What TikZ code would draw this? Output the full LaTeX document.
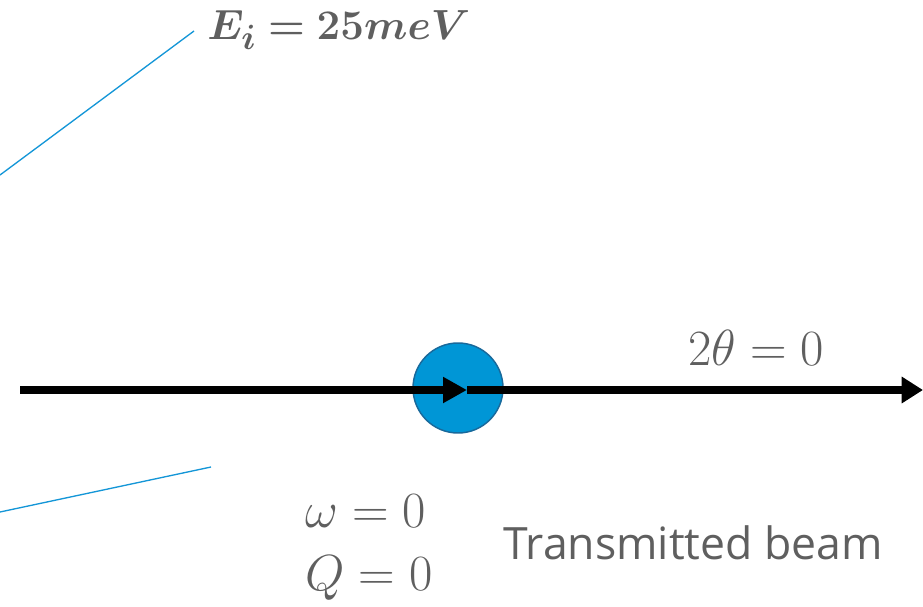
\documentclass[tikz,border=0pt]{standalone}
\usepackage{graphicx}
\usepackage{fontspec}
\usepackage{bm}
\newfontfamily\labelsans{Open Sans}
\usetikzlibrary{arrows.meta}
\definecolor{txtgray}{RGB}{95,95,95}
\definecolor{rayblue}{RGB}{20,150,215}
\definecolor{samplefill}{RGB}{0,150,214}
\definecolor{sampleedge}{RGB}{25,105,155}
\newcommand{\bigmath}[2]{\scalebox{#1}{\Huge$#2$}}
\tikzset{
  ray/.style={draw=rayblue, line width=1pt},
  beam/.style={draw=black, line width=5.3pt, -{Triangle[length=18pt,width=18.5pt]}},
  beamend/.style={draw=black, line width=5.3pt, -{Triangle[length=16pt,width=19pt]}},
  mathlbl/.style={text=txtgray, inner sep=0pt},
}
\begin{document}
\begin{tikzpicture}[x=0.75pt, y=-0.75pt]
\useasboundingbox (0,0) rectangle (923,606);
% rays
\coordinate (r1a) at (0,175);
\coordinate (r1b) at (194,31);
\coordinate (r2a) at (0,512);
\coordinate (r2b) at (211,467);
\draw[ray] (r1a) -- (r1b);
\draw[ray] (r2a) -- (r2b);
% sample
\node[circle, minimum size=67.5pt, inner sep=0pt, fill=samplefill, draw=sampleedge, line width=1.1pt] (sample) at (458,388) {};
% beam
\coordinate (src) at (20,390);
\coordinate (mid) at (467,390);
\coordinate (dst) at (923,390);
\draw[beam] (src) -- (mid);
\draw[beamend] (mid) -- (dst);
% labels
\node[mathlbl, anchor=west] (ei) at (207,30) {\bigmath{1.27}{\bm{E_i = 25meV}}};
\node[mathlbl, anchor=west] (tt) at (688,348) {\bigmath{1.53}{2\theta = 0}};
\node[mathlbl, anchor=west] (om) at (305,511) {\bigmath{1.53}{\omega = 0}};
\node[mathlbl, anchor=west] (qq) at (305,578) {\bigmath{1.53}{Q = 0}};
\node[text=txtgray, inner sep=0pt, anchor=west, font=\labelsans\fontsize{33.4}{38}\selectfont] (tb) at (503,543) {Transmitted beam};
\end{tikzpicture}
\end{document}
